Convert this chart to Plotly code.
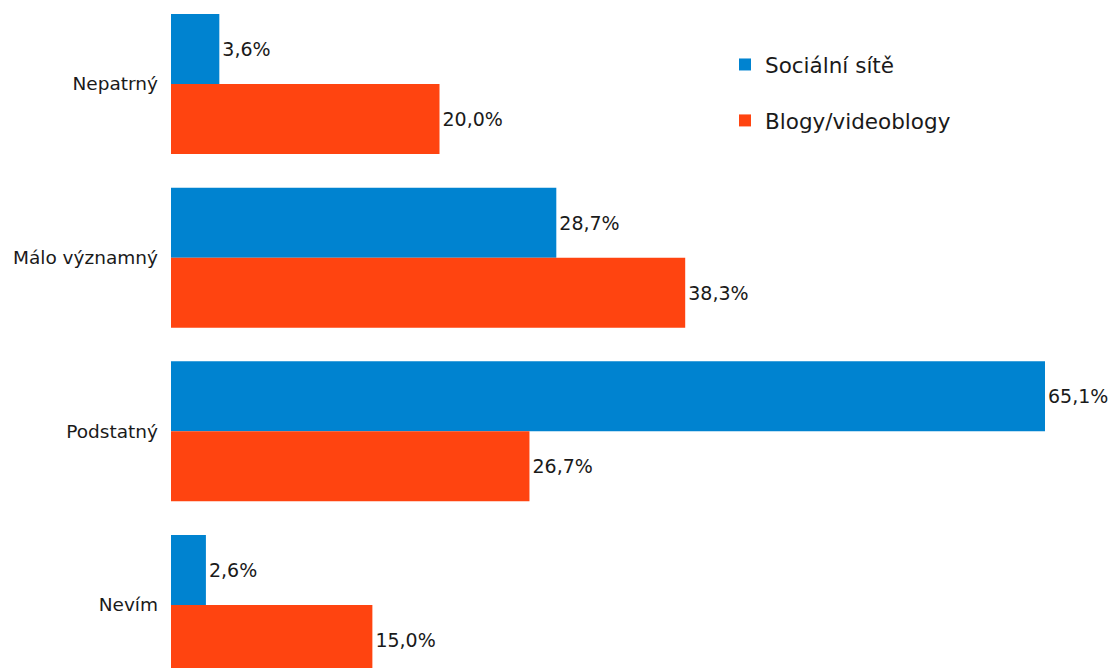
import plotly.graph_objects as go

categories = ["Nepatrný", "Málo významný", "Podstatný", "Nevím"]
social = [3.6, 28.7, 65.1, 2.6]
blogs = [20.0, 38.3, 26.7, 15.0]
series_names = ["Sociální sítě", "Blogy/videoblogy"]
colors = ["#0083D0", "#FF4410"]


def fmt(v):
    return f"{v:.1f}".replace(".", ",") + "%"


fig = go.Figure()
for i, (name, vals) in enumerate(zip(series_names, [social, blogs])):
    fig.add_trace(go.Bar(
        y=categories, x=vals, name=name, orientation="h",
        marker=dict(color=colors[i], line=dict(width=0)),
        text=[fmt(v) for v in vals], textposition="outside",
        textfont=dict(family="DejaVu Sans", size=19, color="#1a1a1a"),
        cliponaxis=False, constraintext="none",
        legendgroup=f"g{i}",
    ))

plot_w = 1115 - 171 - 70
fig.update_layout(
    width=1115, height=668,
    margin=dict(l=171, r=70, t=0, b=0, autoexpand=False),
    paper_bgcolor="white", plot_bgcolor="white",
    barmode="group", bargap=0.194, bargroupgap=0,
    font=dict(family="DejaVu Sans", size=18, color="#1a1a1a"),
    xaxis=dict(range=[0, 65.1], visible=False, showgrid=False, zeroline=False),
    yaxis=dict(range=[3.3627, -0.4837], showgrid=False, zeroline=False,
               showline=False, ticks="", ticklabelstandoff=12,
               tickfont=dict(size=18.5, color="#1a1a1a")),
    legend=dict(xref="paper", yref="paper", x=(725 - 171) / plot_w, y=1 - 44 / 668,
                xanchor="left", yanchor="top", font=dict(size=21.5, color="#1a1a1a"),
                tracegroupgap=25, bgcolor="rgba(0,0,0,0)"),
    showlegend=True,
)

fig.write_html("out.html")
